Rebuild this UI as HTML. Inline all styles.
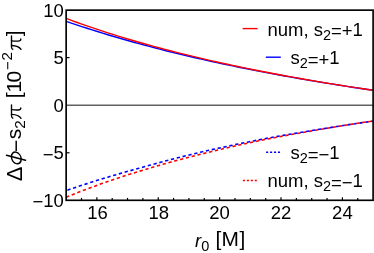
<!DOCTYPE html>
<html><head><meta charset="utf-8"><title>plot</title>
<style>
html,body{margin:0;padding:0;background:#fff;}
body{width:374px;height:253px;overflow:hidden;}
svg{display:block;will-change:transform;}
text{font-family:"Liberation Sans",sans-serif;font-size:18.5px;fill:#000;}
.it{font-style:italic;}
.sb{font-size:14.5px;}
</style></head><body>
<svg width="374" height="253" viewBox="0 0 374 253">
<rect width="374" height="253" fill="#fff"/>
<line x1="66.15" y1="105.3" x2="373.1" y2="105.3" stroke="#626262" stroke-width="1.4"/>
<g fill="none" stroke-width="1.4" stroke-linejoin="round">
<path d="M66.15,21.32 L71.35,23.10 L76.56,24.84 L81.76,26.56 L86.96,28.25 L92.16,29.91 L97.37,31.54 L102.57,33.14 L107.77,34.72 L112.97,36.27 L118.18,37.79 L123.38,39.29 L128.58,40.77 L133.78,42.22 L138.99,43.65 L144.19,45.05 L149.39,46.44 L154.59,47.80 L159.80,49.14 L165.00,50.45 L170.20,51.75 L175.40,53.03 L180.61,54.29 L185.81,55.53 L191.01,56.75 L196.21,57.96 L201.42,59.14 L206.62,60.31 L211.82,61.46 L217.02,62.59 L222.23,63.71 L227.43,64.81 L232.63,65.90 L237.83,66.97 L243.04,68.02 L248.24,69.06 L253.44,70.09 L258.64,71.10 L263.85,72.10 L269.05,73.09 L274.25,74.06 L279.45,75.01 L284.66,75.96 L289.86,76.89 L295.06,77.81 L300.26,78.72 L305.47,79.62 L310.67,80.50 L315.87,81.38 L321.07,82.24 L326.28,83.09 L331.48,83.93 L336.68,84.76 L341.88,85.58 L347.09,86.39 L352.29,87.19 L357.49,87.98 L362.69,88.76 L367.90,89.53 L373.10,90.29" stroke="#0000ff"/>
<path d="M66.15,18.46 L71.35,20.37 L76.56,22.25 L81.76,24.10 L86.96,25.91 L92.16,27.68 L97.37,29.42 L102.57,31.13 L107.77,32.80 L112.97,34.45 L118.18,36.06 L123.38,37.65 L128.58,39.21 L133.78,40.74 L138.99,42.24 L144.19,43.72 L149.39,45.17 L154.59,46.60 L159.80,48.00 L165.00,49.38 L170.20,50.74 L175.40,52.07 L180.61,53.38 L185.81,54.67 L191.01,55.94 L196.21,57.19 L201.42,58.42 L206.62,59.63 L211.82,60.82 L217.02,61.99 L222.23,63.15 L227.43,64.28 L232.63,65.40 L237.83,66.50 L243.04,67.59 L248.24,68.66 L253.44,69.71 L258.64,70.75 L263.85,71.77 L269.05,72.78 L274.25,73.77 L279.45,74.75 L284.66,75.72 L289.86,76.67 L295.06,77.61 L300.26,78.53 L305.47,79.45 L310.67,80.35 L315.87,81.24 L321.07,82.11 L326.28,82.98 L331.48,83.83 L336.68,84.67 L341.88,85.50 L347.09,86.32 L352.29,87.13 L357.49,87.93 L362.69,88.71 L367.90,89.49 L373.10,90.26" stroke="#ff0000"/>
<path d="M66.15,190.57 L71.35,188.78 L76.56,187.03 L81.76,185.31 L86.96,183.62 L92.16,181.96 L97.37,180.33 L102.57,178.73 L107.77,177.16 L112.97,175.61 L118.18,174.09 L123.38,172.59 L128.58,171.12 L133.78,169.68 L138.99,168.26 L144.19,166.80 L149.39,165.35 L154.59,163.92 L159.80,162.51 L165.00,161.13 L170.20,159.76 L175.40,158.42 L180.61,157.09 L185.81,155.79 L191.01,154.50 L196.21,153.23 L201.42,152.00 L206.62,150.81 L211.82,149.65 L217.02,148.50 L222.23,147.37 L227.43,146.25 L232.63,145.15 L237.83,144.07 L243.04,143.00 L248.24,141.95 L253.44,140.91 L258.64,139.88 L263.85,138.90 L269.05,137.94 L274.25,137.00 L279.45,136.07 L284.66,135.15 L289.86,134.24 L295.06,133.35 L300.26,132.47 L305.47,131.60 L310.67,130.75 L315.87,129.90 L321.07,129.06 L326.28,128.22 L331.48,127.39 L336.68,126.57 L341.88,125.76 L347.09,124.96 L352.29,124.17 L357.49,123.39 L362.69,122.61 L367.90,121.85 L373.10,121.10" stroke="#0000ff" stroke-width="1.6" stroke-dasharray="3.3 2.7" stroke-dashoffset="4.7"/>
<path d="M66.15,197.21 L71.35,195.10 L76.56,193.04 L81.76,191.02 L86.96,189.04 L92.16,187.10 L97.37,185.20 L102.57,183.35 L107.77,181.53 L112.97,179.74 L118.18,177.99 L123.38,176.28 L128.58,174.60 L133.78,172.95 L138.99,171.33 L144.19,169.75 L149.39,168.19 L154.59,166.66 L159.80,165.16 L165.00,163.69 L170.20,162.24 L175.40,160.82 L180.61,159.43 L185.81,158.06 L191.01,156.71 L196.21,155.39 L201.42,154.08 L206.62,152.77 L211.82,151.49 L217.02,150.23 L222.23,148.99 L227.43,147.77 L232.63,146.56 L237.83,145.38 L243.04,144.22 L248.24,143.07 L253.44,141.94 L258.64,140.83 L263.85,139.77 L269.05,138.75 L274.25,137.74 L279.45,136.74 L284.66,135.76 L289.86,134.80 L295.06,133.85 L300.26,132.92 L305.47,132.00 L310.67,131.09 L315.87,130.19 L321.07,129.31 L326.28,128.41 L331.48,127.53 L336.68,126.67 L341.88,125.81 L347.09,124.96 L352.29,124.13 L357.49,123.31 L362.69,122.50 L367.90,121.70 L373.10,120.91" stroke="#ff0000" stroke-width="1.6" stroke-dasharray="3.3 2.7"/>
</g>
<g stroke="#000" stroke-width="1.2"><line x1="81.50" y1="200.3" x2="81.50" y2="197.9"/><line x1="96.85" y1="200.3" x2="96.85" y2="197.3"/><line x1="112.19" y1="200.3" x2="112.19" y2="197.9"/><line x1="127.54" y1="200.3" x2="127.54" y2="197.9"/><line x1="142.89" y1="200.3" x2="142.89" y2="197.9"/><line x1="158.24" y1="200.3" x2="158.24" y2="197.3"/><line x1="173.58" y1="200.3" x2="173.58" y2="197.9"/><line x1="188.93" y1="200.3" x2="188.93" y2="197.9"/><line x1="204.28" y1="200.3" x2="204.28" y2="197.9"/><line x1="219.63" y1="200.3" x2="219.63" y2="197.3"/><line x1="234.97" y1="200.3" x2="234.97" y2="197.9"/><line x1="250.32" y1="200.3" x2="250.32" y2="197.9"/><line x1="265.67" y1="200.3" x2="265.67" y2="197.9"/><line x1="281.02" y1="200.3" x2="281.02" y2="197.3"/><line x1="296.36" y1="200.3" x2="296.36" y2="197.9"/><line x1="311.71" y1="200.3" x2="311.71" y2="197.9"/><line x1="327.06" y1="200.3" x2="327.06" y2="197.9"/><line x1="342.41" y1="200.3" x2="342.41" y2="197.3"/><line x1="357.75" y1="200.3" x2="357.75" y2="197.9"/><line x1="66.15" y1="57.60" x2="69.55000000000001" y2="57.60"/><line x1="66.15" y1="152.80" x2="69.55000000000001" y2="152.80"/></g>
<rect x="66.15" y="10.15" width="306.95" height="190.15" fill="none" stroke="#000" stroke-width="1.65"/>
<text x="97.45" y="219.2" text-anchor="middle">16</text><text x="158.84" y="219.2" text-anchor="middle">18</text><text x="219.63" y="219.2" text-anchor="middle">20</text><text x="281.02" y="219.2" text-anchor="middle">22</text><text x="342.41" y="219.2" text-anchor="middle">24</text>
<text x="63.9" y="17.30" text-anchor="end">10</text><text x="63.9" y="64.30" text-anchor="end">5</text><text x="63.9" y="111.90" text-anchor="end">0</text><text x="63.9" y="159.40" text-anchor="end"><tspan dy="1.3">−</tspan><tspan dy="-1.3">5</tspan></text><text x="63.9" y="206.50" text-anchor="end"><tspan dy="1.3">−</tspan><tspan dy="-1.3">10</tspan></text>
<text x="195" y="246.6"><tspan class="it">r</tspan><tspan class="sb" dy="4">0</tspan></text>
<text x="215.4" y="246.4" style="font-size:20.9px;letter-spacing:0.4px">[M]</text>
<g transform="translate(21.4,180.9) rotate(-90)" style="font-size:21px">
<text x="-0.4" y="0.2" style="font-size:21.8px">Δ</text>
<g fill="none" stroke="#000" stroke-width="1.45" stroke-linecap="round"><ellipse cx="0" cy="0" rx="5.7" ry="4.9" transform="translate(23.0,-5.1) skewX(-14)"/><line x1="20.7" y1="4.1" x2="25.6" y2="-14.9"/></g>
<text x="28.9" y="1.9" style="font-size:21px">−</text>
<text x="41.65" y="0" style="font-size:21px">s</text>
<text x="52.2" y="3.9" style="font-size:15.2px">2</text>
<g transform="translate(62.2,0)" fill="none" stroke="#000" stroke-width="1.35" stroke-linecap="round" stroke-linejoin="round"><path d="M0.5,-8.6 C1.1,-9.9 1.9,-9.9 2.9,-9.9 L13.9,-9.9"/><path d="M4.3,-9.9 C4.1,-6 3.4,-2.2 0.4,-0.4"/><path d="M9.0,-9.9 C8.5,-5 8.2,-0.2 10.8,-0.6"/></g>
<text x="82.6" y="-0.4" style="font-size:21px">[</text>
<text x="88.4" y="0" style="font-size:21px">1</text>
<text x="98.3" y="0" style="font-size:21px">0</text>
<text x="111.0" y="-8.2" style="font-size:15.2px">−</text>
<text x="120.5" y="-9.2" style="font-size:15.2px">2</text>
<g transform="translate(131.1,0)" fill="none" stroke="#000" stroke-width="1.35" stroke-linecap="round" stroke-linejoin="round"><path d="M0.5,-8.6 C1.1,-9.9 1.9,-9.9 2.9,-9.9 L13.9,-9.9"/><path d="M4.3,-9.9 C4.1,-6 3.4,-2.2 0.4,-0.4"/><path d="M9.0,-9.9 C8.5,-5 8.2,-0.2 10.8,-0.6"/></g>
<text x="144.6" y="-0.4" style="font-size:21px">]</text>
</g>
<g stroke-width="1.4">
<line x1="242.6" y1="28.6" x2="257.6" y2="28.6" stroke="#ff0000"/>
<line x1="265.8" y1="57.2" x2="280.8" y2="57.2" stroke="#0000ff"/>
<line x1="266.1" y1="152.3" x2="280.3" y2="152.3" stroke="#0000ff" stroke-dasharray="2.1 1.85"/>
<line x1="242.9" y1="180.5" x2="257.1" y2="180.5" stroke="#ff0000" stroke-dasharray="2.1 1.85"/>
</g>
<text x="267.4" y="35.8">num, s<tspan class="sb" dy="3.9">2</tspan><tspan dy="-2.60">=+</tspan><tspan dy="-1.3">1</tspan></text>
<text x="290.4" y="64.3">s<tspan class="sb" dy="3.9">2</tspan><tspan dy="-2.60">=+</tspan><tspan dy="-1.3">1</tspan></text>
<text x="290.4" y="159.3">s<tspan class="sb" dy="3.9">2</tspan><tspan dy="-2.60">=−</tspan><tspan dy="-1.3">1</tspan></text>
<text x="267.4" y="187.3">num, s<tspan class="sb" dy="3.9">2</tspan><tspan dy="-2.60">=−</tspan><tspan dy="-1.3">1</tspan></text>
</svg>
</body></html>
